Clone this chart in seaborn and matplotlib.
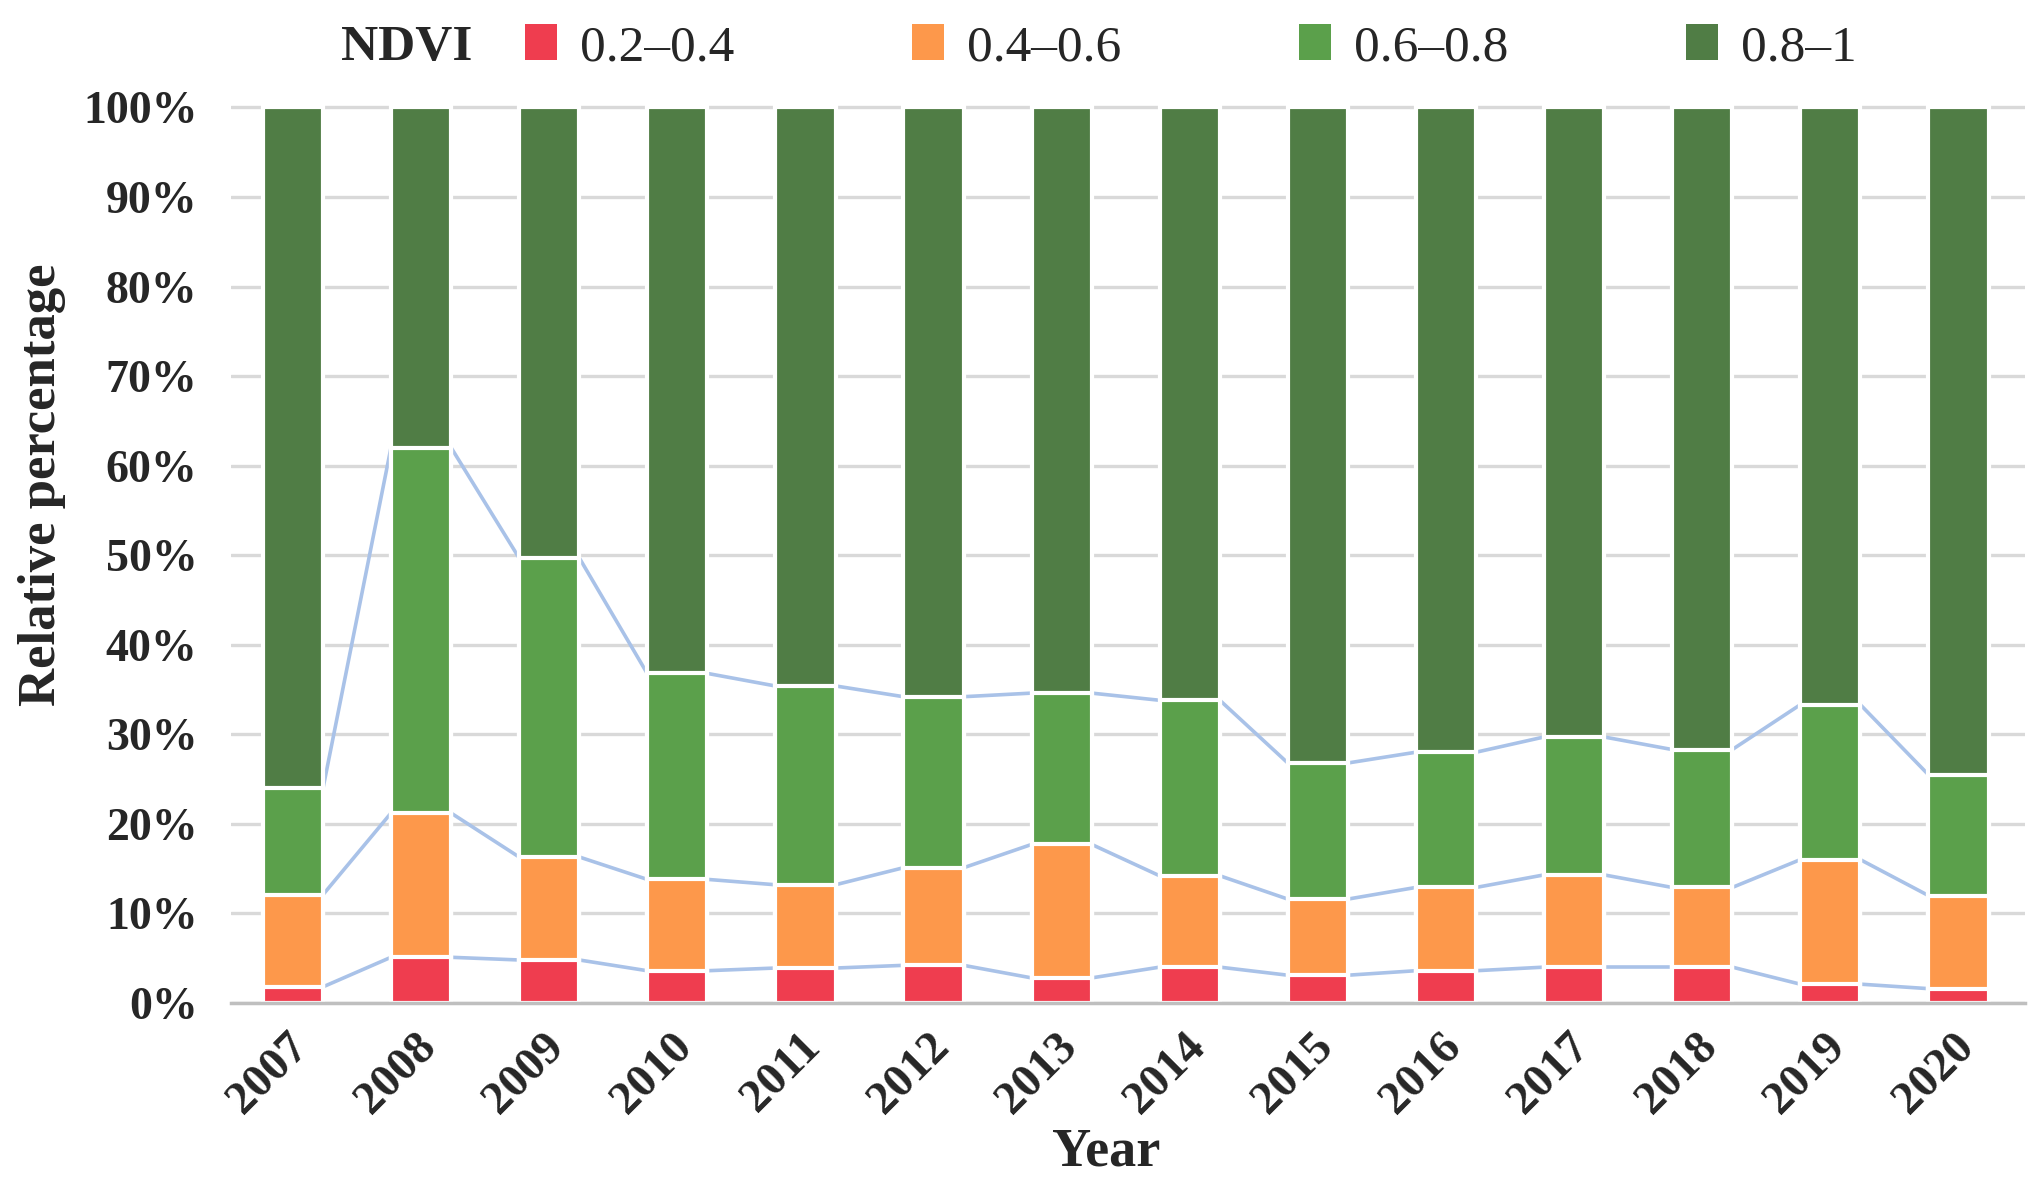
import numpy as np
import pandas as pd
import matplotlib
matplotlib.use('Agg')
import matplotlib.pyplot as plt
import matplotlib.transforms as mtransforms
from matplotlib.patches import Patch
import seaborn as sns

# data: share of each NDVI class per year (%)
years = ['2007', '2008', '2009', '2010', '2011', '2012', '2013',
         '2014', '2015', '2016', '2017', '2018', '2019', '2020']
ndvi_02_04 = [1.8, 5.1, 4.8, 3.6, 3.9, 4.2, 2.8, 4.0, 3.1, 3.6, 4.0, 4.0, 2.1, 1.6]
ndvi_04_06 = [10.3, 16.1, 11.5, 10.2, 9.3, 10.9, 14.9, 10.2, 8.5, 9.3, 10.3, 8.9, 13.9, 10.4]
ndvi_06_08 = [11.9, 40.8, 33.4, 23.0, 22.2, 19.1, 16.9, 19.6, 15.2, 15.1, 15.4, 15.4, 17.3, 13.5]
ndvi_08_1 = [76.0, 38.0, 50.3, 63.2, 64.6, 65.8, 65.4, 66.2, 73.2, 72.0, 70.3, 71.7, 66.7, 74.5]
class_labels = ['0.2–0.4', '0.4–0.6', '0.6–0.8', '0.8–1']
colors = ['#EF3D4F', '#FD984B', '#5BA04B', '#507D45']

sns.set_theme(style='white')
plt.rcParams['font.family'] = ['Liberation Serif', 'DejaVu Serif']

series = [ndvi_02_04, ndvi_04_06, ndvi_06_08, ndvi_08_1]
cum = np.cumsum(np.array(series), axis=0)

fig = plt.figure(figsize=(20.42, 11.94), dpi=100)
ax = fig.add_axes([0.1131, 0.160, 0.8786, 0.753])

bar_w = 0.47
# stacked bars: draw tallest cumulative first, smaller ones on top
for k in range(3, -1, -1):
    df = pd.DataFrame({'year': years, 'value': cum[k]})
    sns.barplot(data=df, x='year', y='value', color=colors[k], saturation=1,
                width=bar_w, edgecolor='white', linewidth=3, ax=ax, zorder=2)

# series lines between bars
xs = np.arange(len(years))
for k in range(3):
    for i in range(len(years) - 1):
        ax.plot([xs[i] + bar_w / 2, xs[i + 1] - bar_w / 2], [cum[k][i], cum[k][i + 1]],
                color='#A9C2E8', lw=2.6, zorder=1.5, solid_capstyle='butt')

ax.set_xlim(-0.484, 13.52)
ax.set_ylim(0, 100.4)
ax.set_yticks(np.arange(0, 101, 10))
ax.set_yticklabels([f'{v}%' for v in range(0, 101, 10)])
ax.yaxis.grid(True, color='#D9D9D9', lw=2.4)
ax.set_axisbelow(True)
for s in ['top', 'right', 'left']:
    ax.spines[s].set_visible(False)
ax.spines['bottom'].set_color('#BFBFBF')
ax.spines['bottom'].set_linewidth(2.5)
ax.tick_params(axis='y', length=0, pad=24, labelsize=33)
ax.tick_params(axis='x', length=0, pad=27, labelsize=34)
for lab in ax.get_yticklabels():
    lab.set_fontweight('bold')
offset = mtransforms.ScaledTranslation(0.09, 0, fig.dpi_scale_trans)
for lab in ax.get_xticklabels():
    lab.set_fontweight('bold')
    lab.set_rotation(45)
    lab.set_ha('right')
    lab.set_va('center')
    lab.set_rotation_mode('anchor')
    lab.set_transform(lab.get_transform() + offset)

ax.set_ylabel('Relative percentage', fontsize=38, fontweight='bold')
ax.yaxis.set_label_coords(-0.092, 0.576)
ax.set_xlabel('Year', fontsize=39, fontweight='bold')
ax.xaxis.set_label_coords(0.488, -0.138)

# legend
fig.text(0.167, 0.96, 'NDVI', fontsize=37, fontweight='bold', va='center', ha='left')
handles = [Patch(facecolor=c, edgecolor='none') for c in colors]
fig.legend(handles, class_labels, loc='center left', bbox_to_anchor=(0.257, 0.96),
           ncol=4, frameon=False, fontsize=37, handlelength=0.62, handleheight=0.7,
           handletextpad=0.45, columnspacing=3.46, borderpad=0, borderaxespad=0)

fig.savefig('out.png', dpi=100)
